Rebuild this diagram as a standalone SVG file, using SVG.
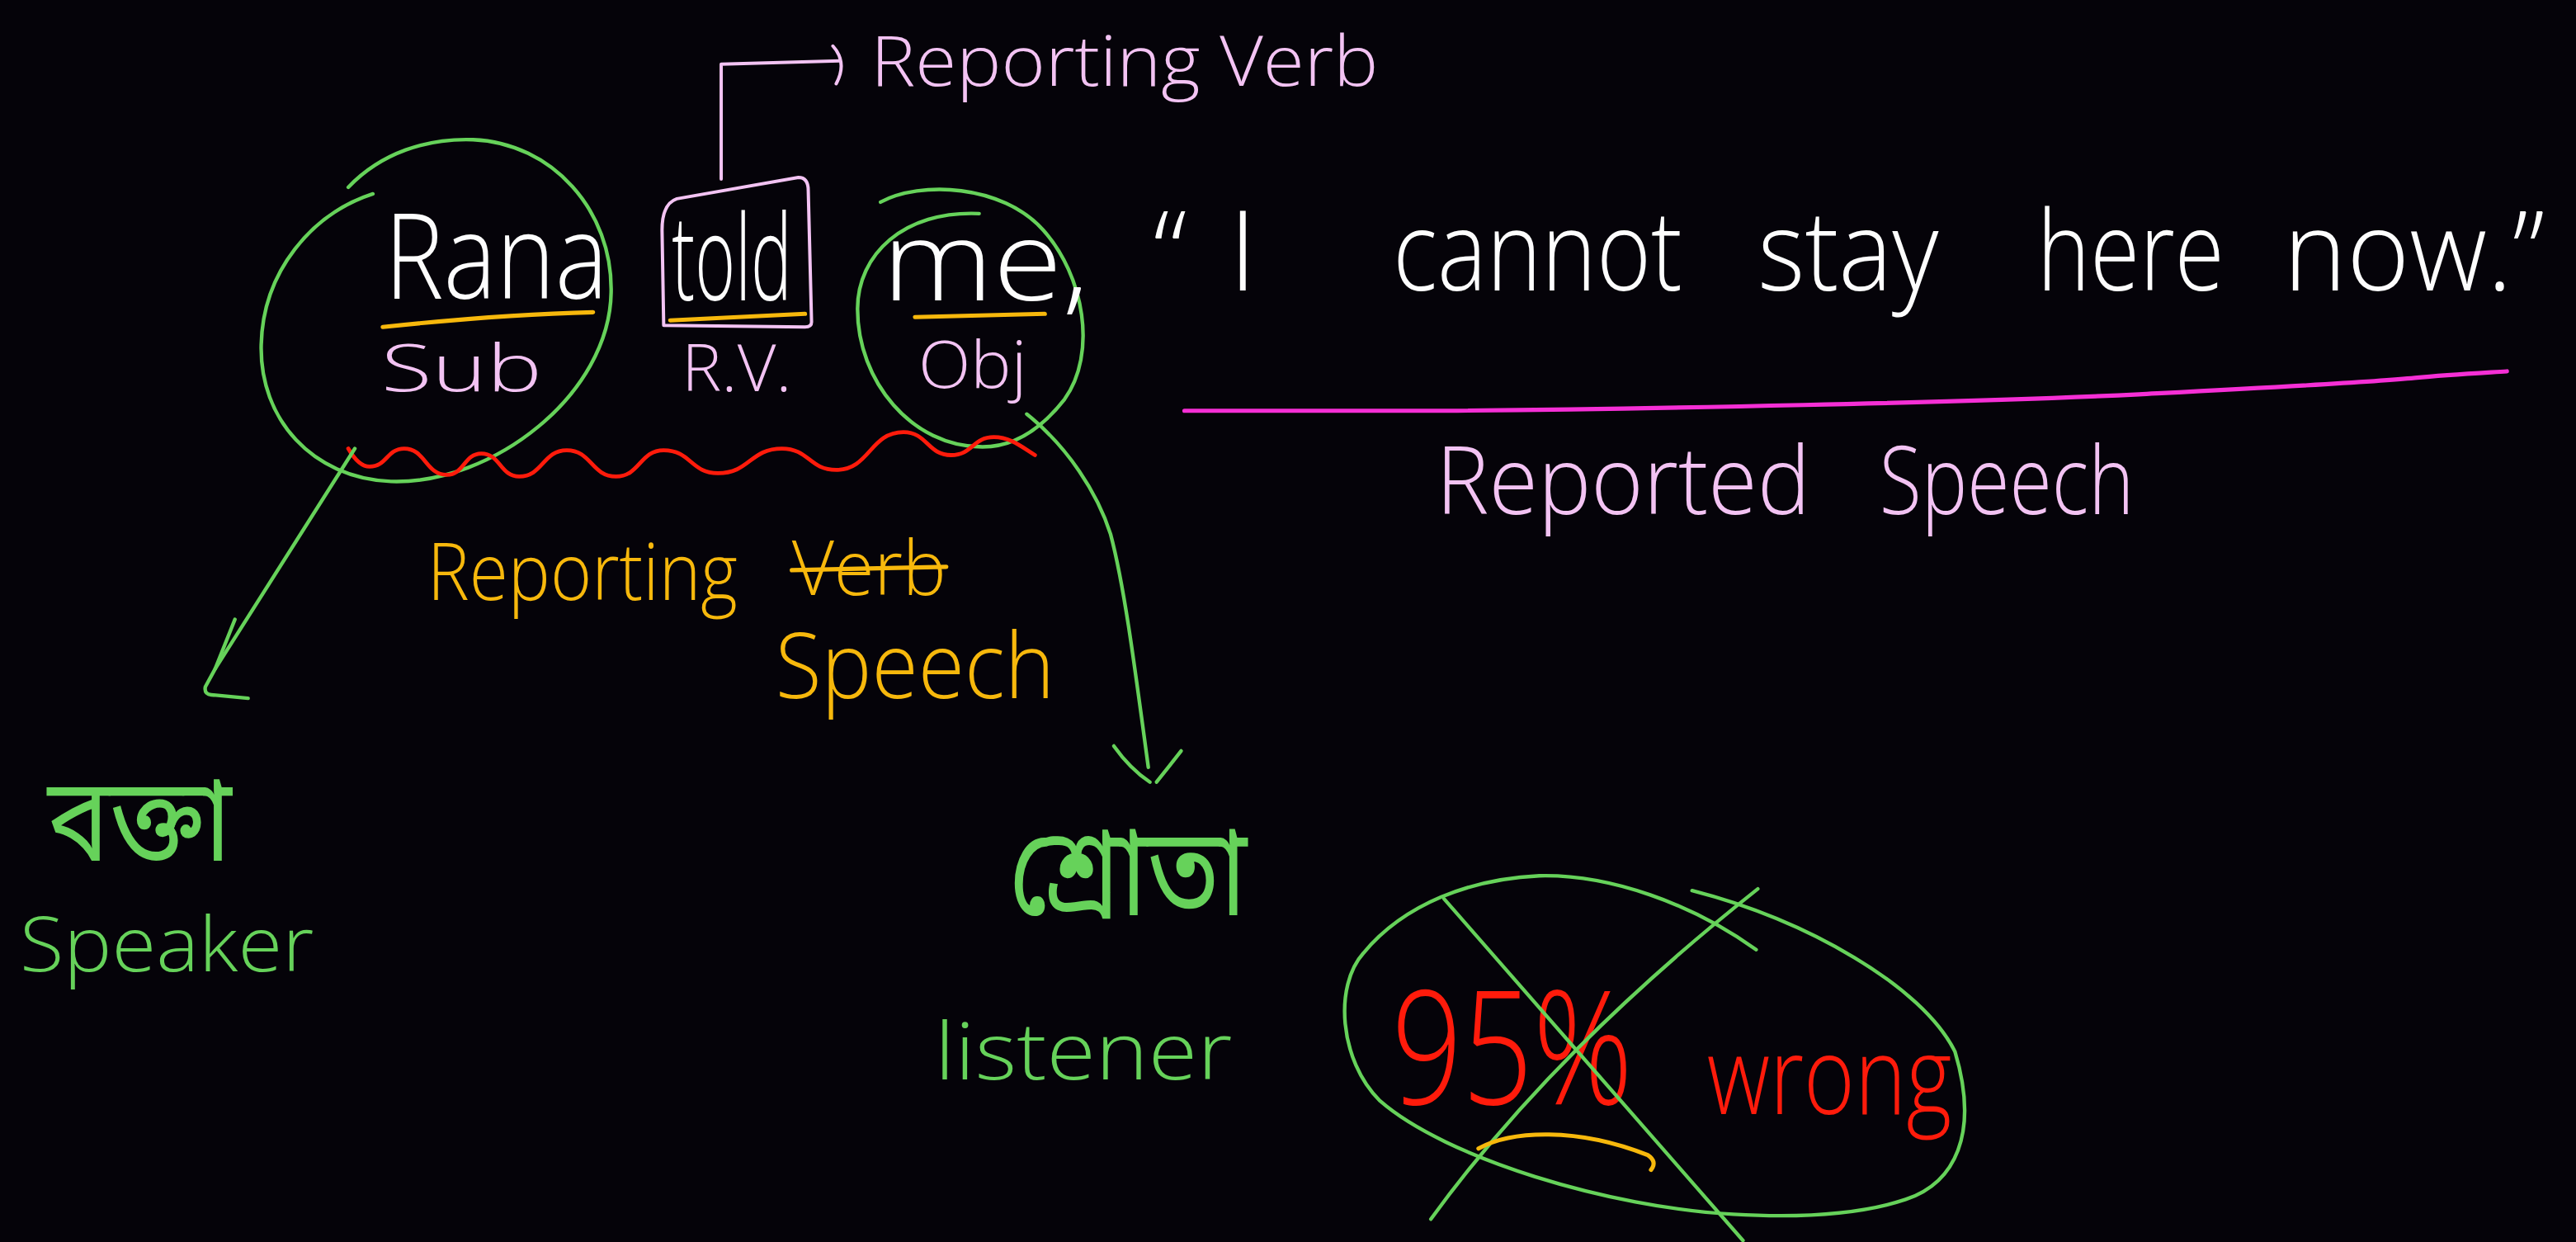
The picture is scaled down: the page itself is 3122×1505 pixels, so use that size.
<svg xmlns="http://www.w3.org/2000/svg" width="3122" height="1505" viewBox="0 0 3122 1505">
<style>
text{font-family:"Open Sans","Liberation Sans","Noto Sans","Noto Sans Bengali",sans-serif;font-weight:300}
.bn{font-family:"Noto Sans Bengali","Noto Sans","Open Sans",sans-serif;font-weight:400}
.wh{fill:#fdfdfd}
.pk{fill:#f3c3f3}
.or{fill:#f7b80c}
.rd{fill:#ff1b0b}
.gr{fill:#66d25a}
.s{fill:none;stroke-linecap:round;stroke-linejoin:round}
.sg{stroke:#66d25a;stroke-width:2.2}
.sp{stroke:#f3c3f3;stroke-width:2}
.so{stroke:#f7b80c;stroke-width:2.6}
.sr{stroke:#ff1b0b;stroke-width:2.4}
.sm{stroke:#f52fd5;stroke-width:2.6}
</style>
<rect x="0" y="0" width="3122" height="1505" fill="#050309"/>
<g transform="scale(1.991)">
  <g id="rana">
    <path class="s sg" d="M212,114 C232,93 260,84 288,85 C336,87 373,128 372,178 C371,240 300,295 238,293 C190,291 158,255 159,210 C160,165 190,130 227,118"/>
    <text class="wh" x="234" y="182" font-size="72" textLength="136" lengthAdjust="spacingAndGlyphs">Rana</text>
    <path class="s so" d="M233,199 C280,194 320,191 361,190"/>
    <text class="pk" x="232" y="238" font-size="40" textLength="98" lengthAdjust="spacingAndGlyphs">Sub</text>
  </g>
  <g id="told">
    <path class="s sp" d="M404,198 L403,140 Q403,124 412,121 L486,108 Q492,108 492,116 L494,196 Q494,199 490,199 Z"/>
    <text class="wh" x="409" y="183" font-size="72" textLength="73" lengthAdjust="spacingAndGlyphs">told</text>
    <path class="s so" d="M408,195 L490,191"/>
    <text class="pk" x="415" y="238" font-size="40" textLength="67" lengthAdjust="spacingAndGlyphs">R.V.</text>
  </g>
  <g id="me">
    <path class="s sg" d="M536,123 C560,110 610,112 635,140 C660,168 668,215 648,243 C630,266 612,272 598,272 C555,272 522,232 522,188 C522,155 550,128 596,130"/>
    <text class="wh" x="537" y="183" font-size="68" textLength="126" lengthAdjust="spacingAndGlyphs">me,</text>
    <path class="s so" d="M557,193 L636,191"/>
    <text class="pk" x="559" y="236" font-size="40" textLength="66" lengthAdjust="spacingAndGlyphs">Obj</text>
  </g>
  <g id="reporting-verb-label">
    <text class="pk" x="530" y="52" font-size="43" textLength="309" lengthAdjust="spacingAndGlyphs">Reporting Verb</text>
  </g>
  <g id="quote">
    <text class="wh" y="177" font-size="68"><tspan x="702">“</tspan><tspan x="748">I</tspan> <tspan x="848" textLength="176" lengthAdjust="spacingAndGlyphs">cannot</tspan> <tspan x="1070" textLength="110" lengthAdjust="spacingAndGlyphs">stay</tspan> <tspan x="1240" textLength="114" lengthAdjust="spacingAndGlyphs">here</tspan> <tspan x="1390" textLength="159" lengthAdjust="spacingAndGlyphs">now.”</tspan></text>
    <path class="s sm" d="M721,250 L880,250 C1000,249 1200,245 1302,240 C1380,236 1440,233 1470,230 C1490,228 1510,227 1526,226"/>
  </g>
  <g id="reported-speech">
    <text class="pk" y="313" font-size="57"><tspan x="874" textLength="228" lengthAdjust="spacingAndGlyphs">Reported</tspan> <tspan x="1144" textLength="155" lengthAdjust="spacingAndGlyphs">Speech</tspan></text>
  </g>
  <g id="reporting-speech">
    <path class="s sr" d="M212,273 C216,280 220,284 225,284 C235.5,284 235.5,273 246,273 C259,273 259,289 272,289 C282.5,289 282.5,276 293,276 C304.5,276 304.5,290 316,290 C330.5,290 330.5,274 345,274 C360,274 360,290 375,290 C389.5,290 389.5,274 404,274 C420.5,274 420.5,288 437,288 C456.5,288 456.5,273 476,273 C492.5,273 492.5,286 509,286 C529.5,286 529.5,263 550,263 C564.5,263 564.5,277 579,277 C592,277 592,266 605,266 C615,266 622,272 630,277"/>
    <text class="or" x="260" y="365" font-size="48" textLength="189" lengthAdjust="spacingAndGlyphs">Reporting</text>
    <text class="or" x="482" y="362" font-size="46" textLength="94" lengthAdjust="spacingAndGlyphs">Verb</text>
    <path class="s so" d="M482,347 L576,345"/>
    <text class="or" x="472" y="425" font-size="56" textLength="170" lengthAdjust="spacingAndGlyphs">Speech</text>
  </g>
  <g id="speaker">
    <text class="gr bn" x="29" y="524" font-size="72" textLength="112" lengthAdjust="spacingAndGlyphs">বক্তা</text>
    <text class="gr" x="12" y="591" font-size="46" textLength="179" lengthAdjust="spacingAndGlyphs">Speaker</text>
  </g>
  <g id="listener">
    <text class="gr bn" x="614" y="557" font-size="76" textLength="145" lengthAdjust="spacingAndGlyphs">শ্রোতা</text>
    <text class="gr" x="569" y="657" font-size="48" textLength="181" lengthAdjust="spacingAndGlyphs">listener</text>
  </g>
  <g id="wrong">
    <path class="s sg" d="M1030,542 C1100,560 1170,600 1190,640 C1205,690 1190,720 1160,730 C1130,740 1090,741 1055,739 C980,735 880,705 840,670 C815,645 812,600 830,580 C855,550 895,535 937,533 C980,532 1030,550 1069,578"/>
    <text class="rd" x="847" y="672" font-size="96" textLength="147" lengthAdjust="spacingAndGlyphs">95%</text>
    <text class="rd" x="1039" y="678" font-size="66" textLength="149" lengthAdjust="spacingAndGlyphs">wrong</text>
    <path class="s sg" d="M879,547 Q965,645 1061,755"/>
    <path class="s sg" d="M1070,541 Q945,640 871,742"/>
    <path class="s so" d="M900,699 C920,688 960,686 1003,703 Q1009,707 1005,712"/>
  </g>
  <g id="connectors">
    <path class="s sp" d="M439,109 L439,39 L511,37"/>
    <path class="s sp" d="M507,28 Q516,38 509,51"/>
    <path class="s sg" d="M216,273 L131,407"/>
    <path class="s sg" d="M143,377 L131,407 L125,418 Q124,423 130,423 L151,425"/>
    <path class="s sg" d="M625,252 C650,272 668,300 676,325 C684,355 690,400 699,467"/>
    <path class="s sg" d="M678,454 Q688,468 700,476 M704,476 Q712,466 719,457"/>
  </g>
</g>
</svg>
